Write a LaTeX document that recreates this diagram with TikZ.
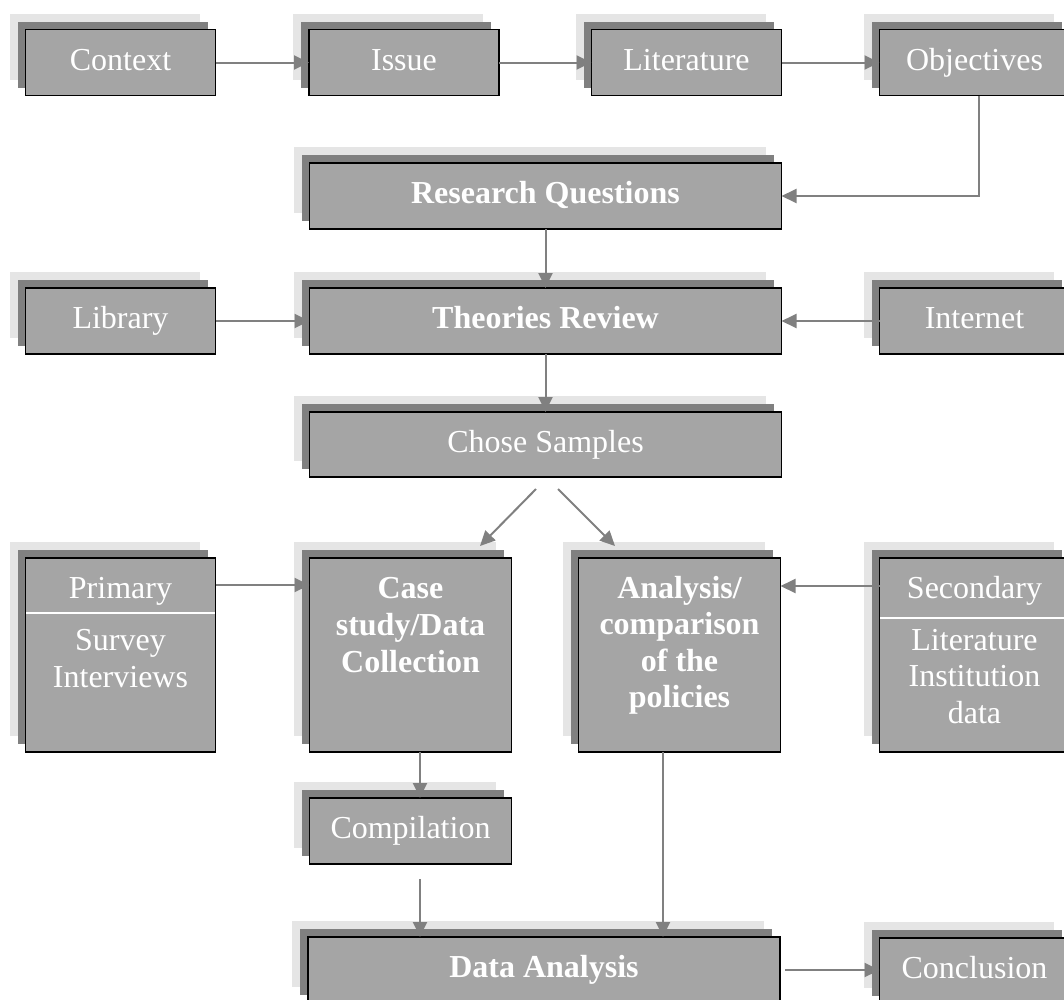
\documentclass[tikz,border=0pt]{standalone}
\usepackage{fontspec}
\setmainfont{Liberation Serif}
\usetikzlibrary{arrows.meta,backgrounds}

\definecolor{boxfill}{HTML}{A5A5A5}
\definecolor{shadedark}{HTML}{808080}
\definecolor{shadelight}{HTML}{E5E5E5}
\definecolor{linkgray}{HTML}{808080}

% two stacked offset shadows behind a box
\newcommand\boxshadow[1]{%
  \fill[shadelight] ([shift={(-16pt,16pt)}]#1.south west) rectangle ([shift={(-16pt,16pt)}]#1.north east);
  \fill[shadedark] ([shift={(-8pt,8pt)}]#1.south west) rectangle ([shift={(-8pt,8pt)}]#1.north east);
}

\begin{document}
\begin{tikzpicture}[x=1pt,y=-1pt,
  box/.style={draw=black, line width=1.7pt, fill=boxfill, inner sep=0pt, outer sep=0pt,
    text=white, font=\fontsize{32}{37}\selectfont, text height=22pt, text depth=7pt},
  wide/.style={minimum width=472pt, minimum height=66pt},
  small/.style={minimum width=190pt, minimum height=66pt},
  tall/.style={minimum height=194pt},
  label/.style={text=white, inner sep=0pt, align=center, anchor=north,
    font=\fontsize{32}{37}\selectfont},
  link/.style={draw=linkgray, line width=2pt, -{Triangle[length=15pt,width=14pt]}},
  divider/.style={draw=white, line width=2pt},
]
\useasboundingbox (0,0) rectangle (1064,999);

% top row
\node[box, small] (ctx) at (120.5,62.5) {Context};
\node[box, small] (iss) at (404,62.5) {Issue};
\node[box, small] (lit) at (686.5,62.5) {Literature};
\node[box, small] (obj) at (974.5,62.5) {Objectives};

% central column
\node[box, wide] (rq) at (545.5,196) {\bfseries Research Questions};
\node[box, small] (lib) at (120.5,321) {Library};
\node[box, wide] (thr) at (545.5,321) {\bfseries Theories Review};
\node[box, small] (int) at (974.5,321) {Internet};
\node[box, wide, minimum height=65pt] (chs) at (545.5,444.5) {Chose Samples};

% tall boxes
\node[box, tall, minimum width=190pt] (pri) at (120.5,655) {};
\node[box, tall, minimum width=202pt] (cas) at (410.5,655) {};
\node[box, tall, minimum width=202pt] (ana) at (679.5,655) {};
\node[box, tall, minimum width=190pt] (sec) at (974.5,655) {};

\node[label] (pri-t) at (120.5,574) {\rule{0pt}{24pt}Primary};
\draw[divider] ([shift={(0.85pt,-55pt)}]pri.north west) -- ([shift={(-0.85pt,-55pt)}]pri.north east);
\node[label] (pri-b) at (120.5,626) {\rule{0pt}{24pt}Survey\\Interviews};

\node[label, font=\fontsize{32}{37}\selectfont\bfseries] (cas-t) at (410.5,574)
  {\rule{0pt}{24pt}Case\\study/Data\\Collection};
\node[label, font=\fontsize{32}{36.5}\selectfont\bfseries] (ana-t) at (679.5,574)
  {\rule{0pt}{24pt}Analysis/\\comparison\\of the\\policies};

\node[label] (sec-t) at (974.5,574) {\rule{0pt}{24pt}Secondary};
\draw[divider] ([shift={(0.85pt,-60pt)}]sec.north west) -- ([shift={(-0.85pt,-60pt)}]sec.north east);
\node[label, font=\fontsize{32}{36.5}\selectfont] (sec-b) at (974.5,626)
  {\rule{0pt}{24pt}Literature\\Institution\\data};

% lower part
\node[box, minimum width=202pt, minimum height=66pt] (cmp) at (410.5,831) {Compilation};
\node[box, minimum width=472pt, minimum height=66pt] (dat) at (544,970) {\bfseries Data Analysis};
\node[box, small] (con) at (974.5,971) {Conclusion};

\begin{scope}[on background layer]
  \foreach \n in {ctx,iss,lit,obj,rq,lib,thr,int,chs,pri,cas,ana,sec,cmp,dat,con}
    {\boxshadow{\n}}
\end{scope}

% connectors
\draw[link] (ctx.east) -- (iss.west);
\draw[link] (iss.east) -- (lit.west);
\draw[link] (lit.east) -- (obj.west);
\draw[link] ([xshift=4.5pt]obj.south) |- (rq.east);
\draw[link] (rq.south) -- (thr.north);
\draw[link] (lib.east) -- (thr.west);
\draw[link] (int.west) -- (thr.east);
\draw[link] (thr.south) -- (chs.north);

\coordinate (split-l) at (536,489);
\coordinate (split-r) at (558,489);
\coordinate (into-cas) at (480,546);
\coordinate (into-ana) at (615,546);
\draw[link] (split-l) -- (into-cas);
\draw[link] (split-r) -- (into-ana);

\draw[link] ([yshift=-27pt]pri.north east) -- ([yshift=-27pt]cas.north west);
\draw[link] ([yshift=-28pt]sec.north west) -- ([yshift=-28pt]ana.north east);

\draw[link] ([xshift=9.5pt]cas.south) -- ([xshift=9.5pt]cmp.north);
\coordinate (cmp-out) at (420,879);
\draw[link] (cmp-out) -- (cmp-out |- dat.north);
\coordinate (ana-out) at ([xshift=-16.5pt]ana.south);
\draw[link] (ana-out) -- (ana-out |- dat.north);
\coordinate (dat-out) at ([xshift=5pt]dat.east);
\draw[link] (dat-out) -- (dat-out -| con.west);
\end{tikzpicture}
\end{document}
